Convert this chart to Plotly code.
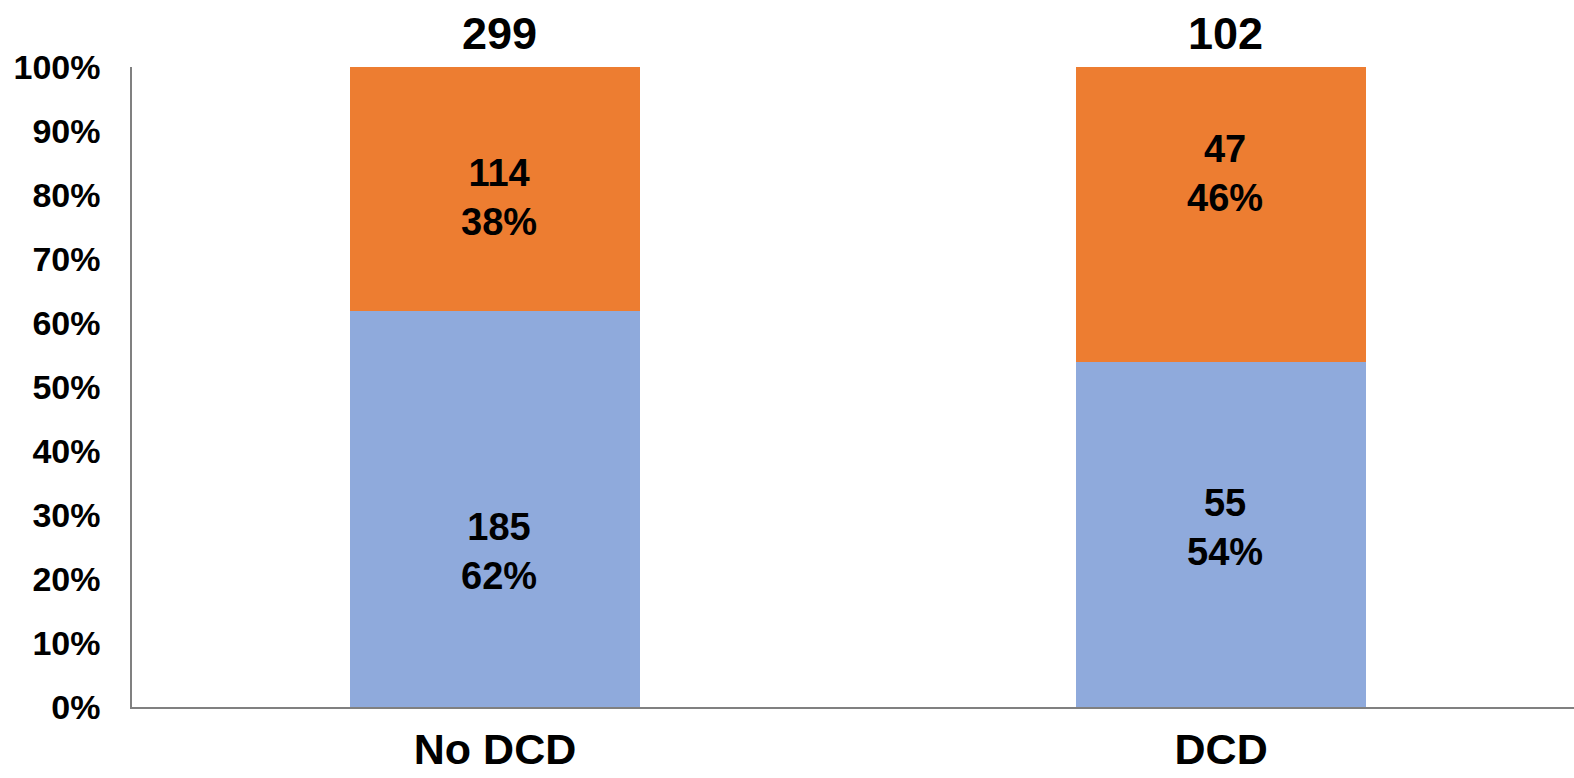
import plotly.graph_objects as go

# Patient counts per group
groups = ["No DCD", "DCD"]
lower_counts = [185, 55]    # blue segment
upper_counts = [114, 47]    # orange segment

totals = [a + b for a, b in zip(lower_counts, upper_counts)]
lower_share = [a / t for a, t in zip(lower_counts, totals)]
upper_share = [b / t for b, t in zip(upper_counts, totals)]

BLUE = "#8FAADC"
ORANGE = "#ED7D31"
AXIS = "#808080"
FONT = "Liberation Sans, Arial, sans-serif"

fig = go.Figure()
fig.add_trace(go.Bar(x=groups, y=lower_share, marker=dict(color=BLUE, line=dict(width=0)),
                     width=0.4, hoverinfo="skip"))
fig.add_trace(go.Bar(x=groups, y=upper_share, marker=dict(color=ORANGE, line=dict(width=0)),
                     width=0.4, hoverinfo="skip"))

# vertical placement of the in-bar labels (fraction of the axis)
lower_label_y = [0.243, 0.281]
upper_label_y = [0.796, 0.834]

for i, g in enumerate(groups):
    fig.add_annotation(x=g, y=lower_label_y[i], xref="x", yref="y", xshift=4,
                       text=f"{lower_counts[i]}<br>{lower_share[i]:.0%}",
                       showarrow=False, yanchor="middle",
                       font=dict(family=FONT, size=38, color="black", weight="bold"))
    fig.add_annotation(x=g, y=upper_label_y[i], xref="x", yref="y", xshift=4,
                       text=f"{upper_counts[i]}<br>{upper_share[i]:.0%}",
                       showarrow=False, yanchor="middle",
                       font=dict(family=FONT, size=38, color="black", weight="bold"))
    fig.add_annotation(x=g, y=1.053, xref="x", yref="paper", xshift=4,
                       text=f"{totals[i]}", showarrow=False, yanchor="middle",
                       font=dict(family=FONT, size=45, color="black", weight="bold"))

fig.update_layout(
    barmode="stack",
    width=1574, height=778,
    margin=dict(l=132, r=0, t=67, b=71),
    paper_bgcolor="white", plot_bgcolor="white",
    showlegend=False,
    xaxis=dict(range=[-0.5, 1.486], showline=True, linecolor=AXIS, linewidth=1.5,
               ticks="", showgrid=False, zeroline=False, ticklabelstandoff=4,
               automargin=False,
               tickfont=dict(family=FONT, size=43, color="black", weight="bold")),
    yaxis=dict(range=[0, 1], dtick=0.1, tickformat=".0%", showline=True,
               linecolor=AXIS, linewidth=1.5, ticks="", showgrid=False,
               zeroline=False, ticklabelstandoff=23, automargin=False,
               tickfont=dict(family=FONT, size=34, color="black", weight="bold")),
)

fig.write_html("out.html")
